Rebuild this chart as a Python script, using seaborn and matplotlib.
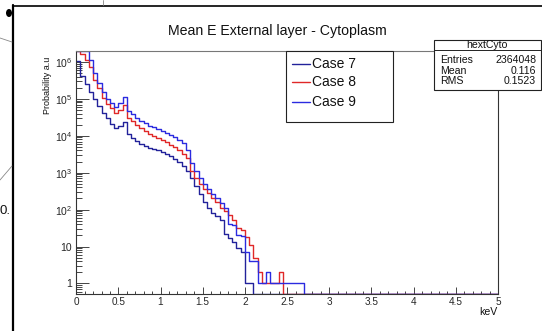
import numpy as np
import pandas as pd
import matplotlib
matplotlib.use("Agg")
import matplotlib.pyplot as plt
from matplotlib.lines import Line2D
from matplotlib.patches import Rectangle, Ellipse
from matplotlib.ticker import LogLocator, MultipleLocator, NullFormatter
import seaborn as sns

# ---------------- data (counts per 0.05 keV bin, starting at 0 keV) ----------------
case7 = [1.07e6, 4.2e5, 2.5e5, 1.58e5, 1.0e5, 6.3e4, 4.2e4, 3.0e4, 2.1e4, 1.58e4,
         1.9e4, 2.35e4, 1.12e4, 8.9e3, 7.1e3, 6.0e3, 5.2e3, 4.8e3, 4.4e3, 4.0e3,
         3.6e3, 3.2e3, 2.75e3, 2.3e3, 1.9e3, 1.5e3, 1.12e3, 710, 450, 263,
         160, 112, 83, 66, 52, 22, 17, 13, 9, 7,
         1, 1]
case8 = [2.5e6, 1.62e6, 1.12e6, 7.4e5, 3.2e5, 1.95e5, 1.05e5, 7.2e4, 5.6e4, 4.2e4,
         5.0e4, 6.8e4, 3.0e4, 2.5e4, 2.0e4, 1.58e4, 1.32e4, 1.15e4, 1.0e4, 8.7e3,
         7.6e3, 6.6e3, 5.8e3, 5.0e3, 4.2e3, 3.3e3, 2.5e3, 1.1e3, 710, 480,
         355, 280, 210, 160, 112, 89, 71, 52, 32, 28,
         18, 11, 5, 2, 1, 1, 1, 1, 2]
case9 = [2.6e6, 2.4e6, 2.1e6, 1.1e6, 4.9e5, 2.75e5, 1.58e5, 9.8e4, 7.9e4, 6.2e4,
         7.9e4, 1.15e5, 4.8e4, 3.8e4, 3.0e4, 2.5e4, 2.2e4, 1.9e4, 1.7e4, 1.5e4,
         1.35e4, 1.2e4, 1.05e4, 9.1e3, 7.9e3, 6.3e3, 4.2e3, 1.8e3, 1.1e3, 710,
         500, 355, 263, 200, 148, 112, 40, 38, 20, 19,
         7, 4, 4, 1, 1, 2, 1, 1, 1, 1,
         1, 1, 1, 1]
case_names = ["Case 7", "Case 8", "Case 9"]
n_bins = 100
x_max_keV = 5.0

title = "Mean E External layer - Cytoplasm"
ylabel = "Probability a.u"
xlabel = "keV"
xtick_vals = [0, 0.5, 1, 1.5, 2, 2.5, 3, 3.5, 4, 4.5, 5]
xtick_labels = ["0", "0.5", "1", "1.5", "2", "2.5", "3", "3.5", "4", "4.5", "5"]
ytick_vals = [1, 10, 1e2, 1e3, 1e4, 1e5, 1e6]
ytick_labels = ["1", "10", r"$10^{2}$", r"$10^{3}$", r"$10^{4}$", r"$10^{5}$", r"$10^{6}$"]
stats_title = "hextCyto"
stats_rows = [("Entries", "2364048"), ("Mean", "0.116"), ("RMS", "0.1523")]

# ---------------- style ----------------
sns.set_theme(style="white")
plt.rcParams["font.family"] = ["Liberation Sans", "DejaVu Sans"]
plt.rcParams["mathtext.fontset"] = "custom"
plt.rcParams["mathtext.rm"] = "Liberation Sans"
plt.rcParams["mathtext.it"] = "Liberation Sans:italic"
plt.rcParams["mathtext.bf"] = "Liberation Sans:bold"

palette = {"Case 7": "#22229a", "Case 8": "#e02828", "Case 9": "#2b2be0"}

W, H = 542, 331
fx = lambda x: x / W
fy = lambda y: 1 - y / H

fig = plt.figure(figsize=(W / 100, H / 100), dpi=100)
fig.patch.set_facecolor("white")
ax = fig.add_axes([fx(76.2), fy(294), fx(498) - fx(76.2), fy(51) - fy(294)])

ymin, ymax = 10 ** -0.287, 10 ** 6.298
edges = np.linspace(0, x_max_keV, n_bins + 1)

frames = []
for name, vals in zip(case_names, [case7, case8, case9]):
    v = np.array(list(vals) + [0] * (n_bins - len(vals)), dtype=float)
    y = np.clip(np.append(v, v[-1]), ymin, ymax)
    frames.append(pd.DataFrame({"keV": edges, "count": y, "case": name}))
df = pd.concat(frames, ignore_index=True)

sns.lineplot(data=df, x="keV", y="count", hue="case", palette=palette,
             estimator=None, sort=False, drawstyle="steps-post",
             lw=1.0, ax=ax, legend=False)

ax.set_yscale("log")
ax.set_xlim(0, x_max_keV)
ax.set_ylim(ymin, ymax)
ax.set_xlabel("")
ax.set_ylabel("")

ax.set_yticks(ytick_vals)
ax.set_yticklabels(ytick_labels)
ax.yaxis.set_minor_locator(LogLocator(base=10, subs=np.arange(2, 10), numticks=30))
ax.yaxis.set_minor_formatter(NullFormatter())
ax.set_xticks(xtick_vals)
ax.set_xticklabels(xtick_labels)
ax.xaxis.set_minor_locator(MultipleLocator(0.1))

ax.tick_params(which="both", direction="in", color="#444444", width=0.7,
               left=True, bottom=True, top=False, right=False)
ax.tick_params(axis="y", which="major", length=9.4, pad=3, labelsize=7.5)
ax.tick_params(axis="y", which="minor", length=4.3)
ax.tick_params(axis="x", which="major", length=5.0, pad=2.5, labelsize=7.2)
ax.tick_params(axis="x", which="minor", length=2.5)
for s in ax.spines.values():
    s.set_color("#333333")
    s.set_linewidth(0.8)
ax.spines["top"].set_color("#777777")

# title and axis labels
fig.text(fx(277), fy(30.7), title, ha="center", va="center", fontsize=10.2, color="#111111")
fig.text(fx(47), fy(57), ylabel, rotation=90, ha="center", va="top", fontsize=6.5, color="#111111")
fig.text(fx(498), fy(312), xlabel, ha="right", va="center", fontsize=7.6, color="#111111")

# legend box
fig.add_artist(Rectangle((fx(286), fy(122)), fx(393) - fx(286), fy(51) - fy(122),
                         transform=fig.transFigure, facecolor="white",
                         edgecolor="#222222", lw=0.8, zorder=5))
for name, yy in zip(case_names, [63.5, 82.0, 101.5]):
    fig.add_artist(Line2D([fx(291.7), fx(310)], [fy(yy), fy(yy)], transform=fig.transFigure,
                          color=palette[name], lw=1.0, zorder=6))
    fig.text(fx(312.5), fy(yy), name, ha="left", va="center", fontsize=10, color="#111111", zorder=6)

# stats box
fig.add_artist(Rectangle((fx(434), fy(90)), fx(540.7) - fx(434), fy(40) - fy(90),
                         transform=fig.transFigure, facecolor="white",
                         edgecolor="#222222", lw=0.8, zorder=5))
fig.add_artist(Line2D([fx(434), fx(540.7)], [fy(50), fy(50)], transform=fig.transFigure,
                      color="#222222", lw=0.7, zorder=6))
fig.text(fx(487.4), fy(45.2), stats_title, ha="center", va="center", fontsize=7.6, color="#111111", zorder=6)
for (lab, val), yy in zip(stats_rows, [60.0, 71.0, 81.5]):
    fig.text(fx(440), fy(yy), lab, ha="left", va="center", fontsize=7.6, color="#111111", zorder=6)
    fig.text(fx(536), fy(yy), val, ha="right", va="center", fontsize=7.6, color="#111111", zorder=6)

# window frame / screenshot surroundings
fig.add_artist(Line2D([fx(12.5), fx(12.5)], [fy(5), fy(331)], transform=fig.transFigure,
                      color="black", lw=1.6))
fig.add_artist(Line2D([fx(12.5), fx(542)], [fy(5.5), fy(5.5)], transform=fig.transFigure,
                      color="black", lw=1.2))
fig.add_artist(Ellipse((fx(9), fy(13)), 6 / W, 8 / H, transform=fig.transFigure,
                       facecolor="black", edgecolor="none"))
fig.add_artist(Line2D([fx(0), fx(12)], [fy(38), fy(42)], transform=fig.transFigure,
                      color="#888888", lw=0.6))
fig.add_artist(Line2D([fx(103), fx(103)], [fy(0), fy(5)], transform=fig.transFigure,
                      color="#888888", lw=0.6))
fig.add_artist(Line2D([fx(0), fx(12)], [fy(180), fy(166)], transform=fig.transFigure,
                      color="#888888", lw=0.6))
fig.text(fx(-1), fy(211), "0.", ha="left", va="center", fontsize=9.5, color="#111111")

fig.savefig("out.png", dpi=100, facecolor="white")
